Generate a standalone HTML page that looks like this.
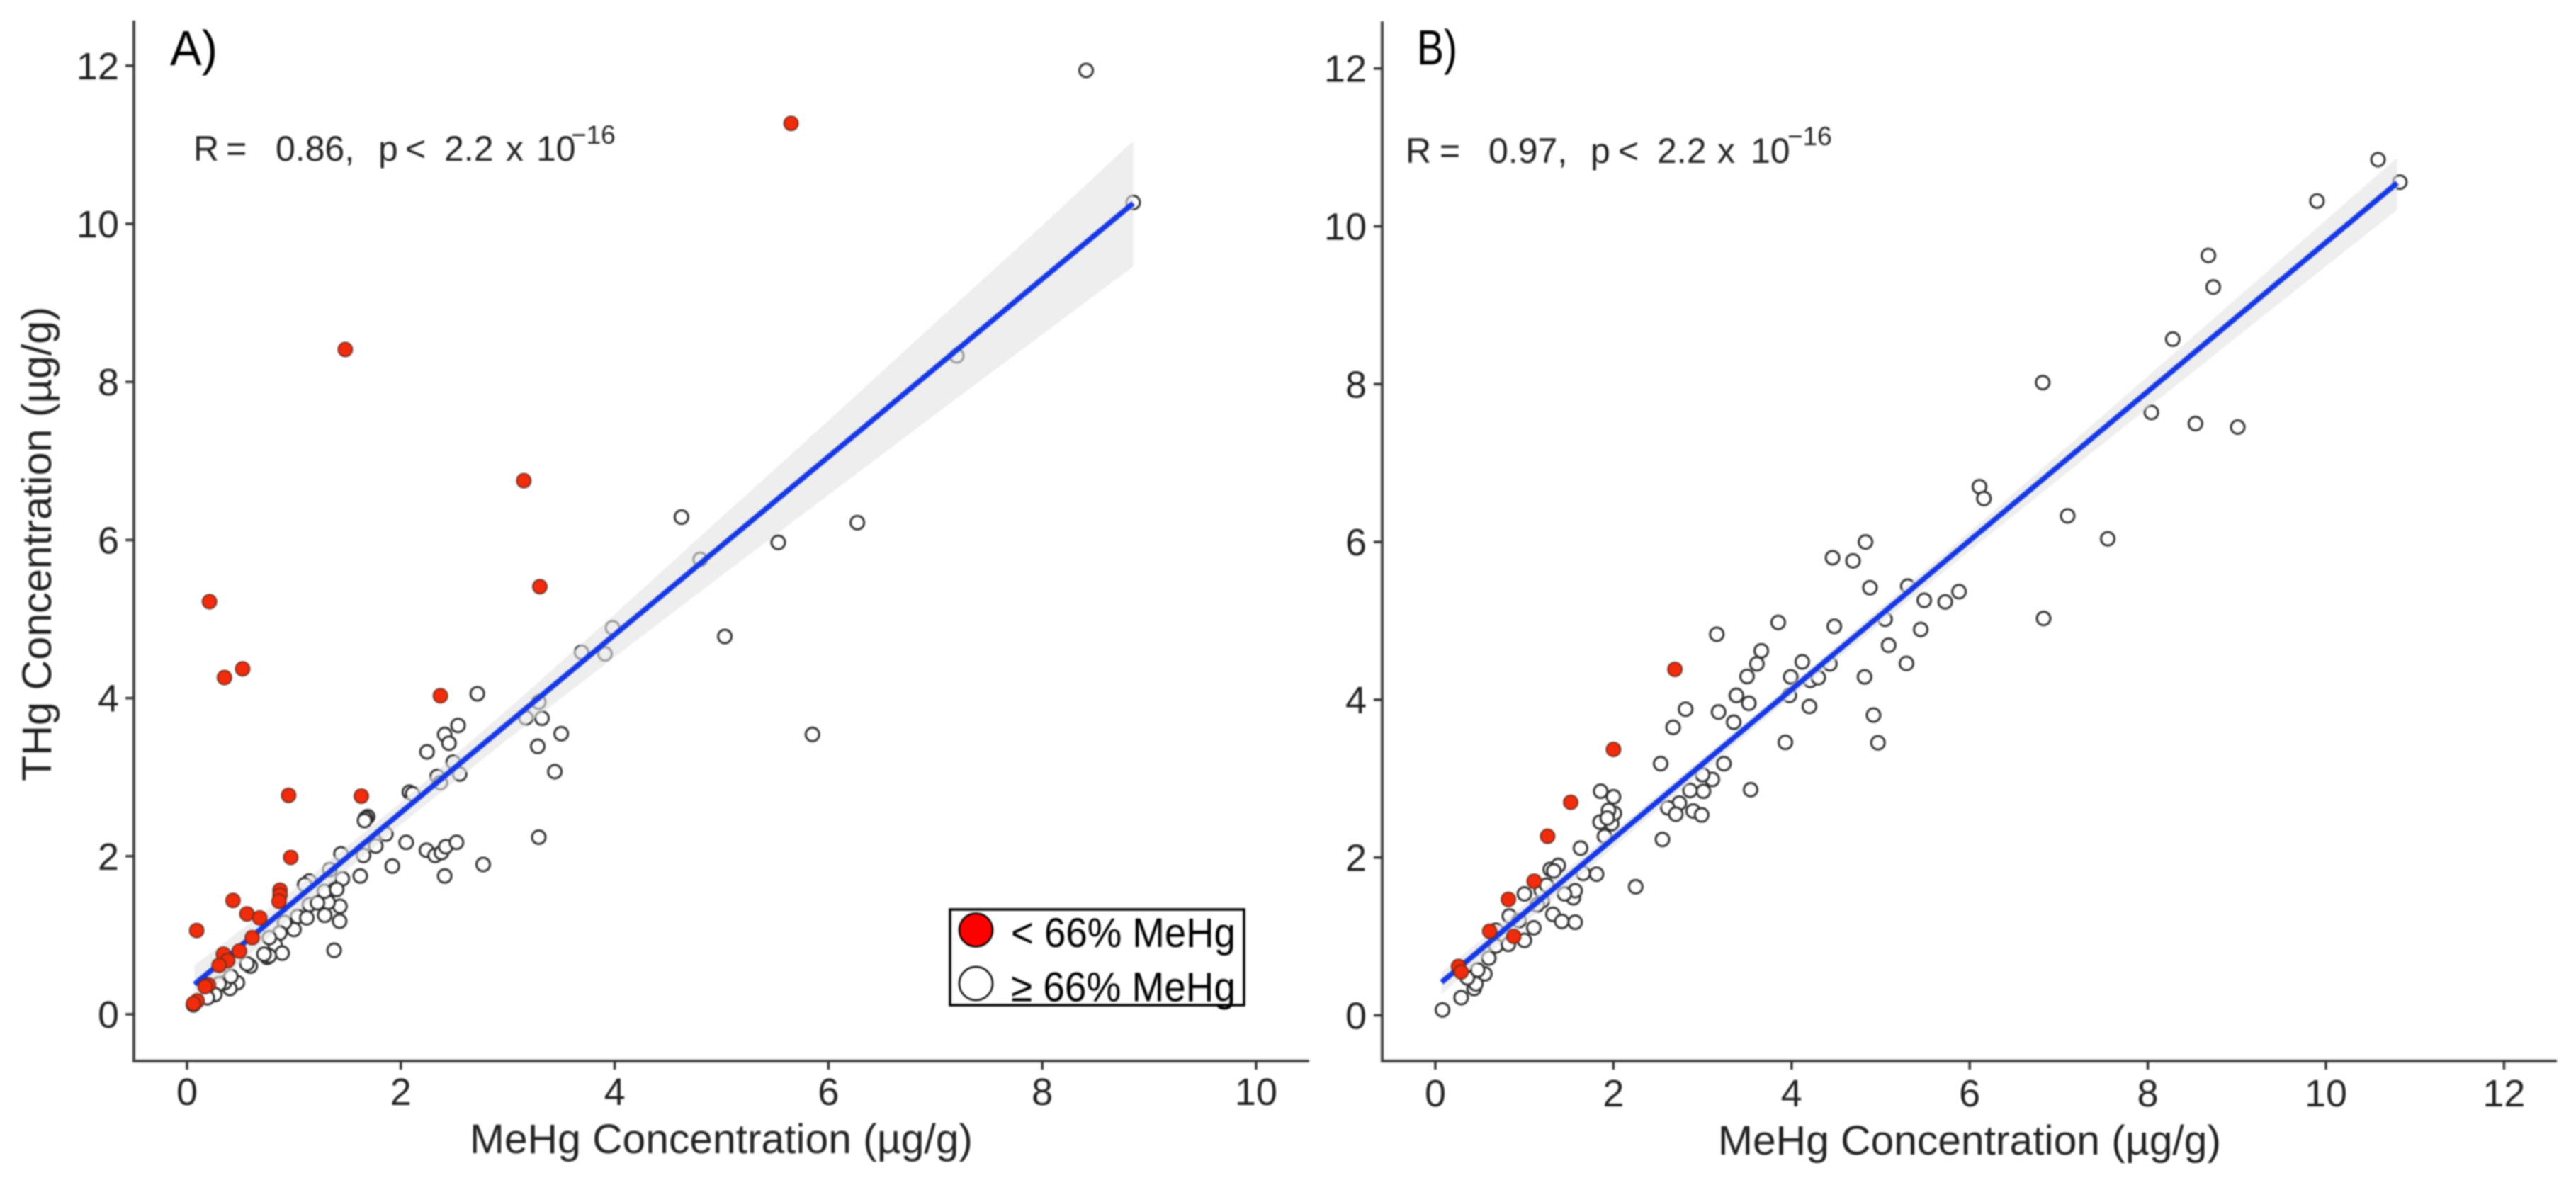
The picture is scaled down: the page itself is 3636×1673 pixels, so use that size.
<!DOCTYPE html>
<html lang="en">
<head>
<meta charset="utf-8">
<title>THg vs MeHg concentration scatter plots</title>
<style>
html,body{margin:0;padding:0;background:#fff;width:3636px;height:1673px;overflow:hidden}
svg{display:block;filter:blur(1px)}
text{font-family:"Liberation Sans",Arial,sans-serif;fill:#222222}
</style>
</head>
<body>
<svg id="figure" xmlns="http://www.w3.org/2000/svg" width="3636" height="1673" viewBox="0 0 3636 1673">
  <rect x="0" y="0" width="3636" height="1673" fill="#ffffff"/>
  <g id="panel-a"></g>
  <g id="panel-b"></g>

  <text x="240" y="92" font-size="70" textLength="67" lengthAdjust="spacingAndGlyphs" style="fill:#000">A)</text>
  <text x="2000" y="91" font-size="70" textLength="57" lengthAdjust="spacingAndGlyphs" style="fill:#000">B)</text>

  <text y="227" font-size="50"><tspan x="273">R</tspan><tspan x="319">=</tspan><tspan x="389">0.86,</tspan><tspan x="534">p</tspan><tspan x="572">&lt;</tspan><tspan x="627">2.2</tspan><tspan x="714">x</tspan><tspan x="757">10</tspan><tspan x="806" y="203" font-size="37">−16</tspan></text>
  <text y="230" font-size="50"><tspan x="1984">R</tspan><tspan x="2032">=</tspan><tspan x="2101">0.97,</tspan><tspan x="2245">p</tspan><tspan x="2284">&lt;</tspan><tspan x="2339">2.2</tspan><tspan x="2424">x</tspan><tspan x="2471">10</tspan><tspan x="2523" y="205" font-size="37">−16</tspan></text>

  <text transform="translate(72 1103) rotate(-90)" x="0" y="0" font-size="58" textLength="670" lengthAdjust="spacingAndGlyphs">THg Concentration (µg/g)</text>
  <text x="663" y="1628" font-size="58" textLength="710" lengthAdjust="spacingAndGlyphs">MeHg Concentration (µg/g)</text>
  <text x="2425" y="1630" font-size="58" textLength="710" lengthAdjust="spacingAndGlyphs">MeHg Concentration (µg/g)</text>

  <g>
    <rect x="1341" y="1284" width="415" height="135" fill="#fff" stroke="#000" stroke-width="3.5"/>
    <circle cx="1377.5" cy="1313" r="23.5" fill="#ff0000" stroke="#000" stroke-width="2.5"/>
    <text x="1427" y="1337" font-size="58" textLength="317" lengthAdjust="spacingAndGlyphs" style="fill:#000">&lt; 66% MeHg</text>
    <circle cx="1377.5" cy="1388.5" r="23.5" fill="#ffffff" stroke="#000" stroke-width="2.5"/>
    <text x="1427" y="1413.5" font-size="58" textLength="317" lengthAdjust="spacingAndGlyphs" style="fill:#000">≥ 66% MeHg</text>
  </g>
</svg>
<script>
// ---------- Panel A data (µg/g) ----------
const panelAXTicks = [0, 2, 4, 6, 8, 10];
const panelAYTicks = [0, 2, 4, 6, 8, 10, 12];
const panelARedMeHg = [5.65, 1.48, 3.15, 0.21, 0.35, 0.52, 3.30, 2.37, 0.95, 1.63, 0.97, 0.43, 0.87, 0.87, 0.86, 0.56, 0.68, 0.09, 0.61, 0.49, 0.34, 0.38, 0.30, 0.20, 0.17, 0.095, 0.06];
const panelARedTHg = [11.27, 8.41, 6.75, 5.22, 4.26, 4.37, 5.41, 4.03, 2.77, 2.76, 1.985, 1.44, 1.57, 1.51, 1.43, 1.27, 1.22, 1.06, 0.97, 0.80, 0.76, 0.68, 0.62, 0.37, 0.35, 0.17, 0.135];
const panelAOpenMeHg = [8.41, 8.85, 7.20, 4.625, 4.80, 5.53, 6.27, 5.03, 5.85, 3.98, 3.91, 3.69, 3.29, 3.17, 3.32, 3.50, 3.28, 3.44, 3.29, 2.715, 2.535, 2.41, 2.45, 2.245, 2.49, 2.55, 2.34, 2.37, 2.08, 2.11, 1.69, 1.67, 1.66, 1.86, 1.765, 1.65, 1.44, 2.05, 2.24, 2.32, 2.38, 2.42, 2.52, 2.41, 1.92, 2.77, 1.62, 1.453, 1.38, 1.43, 1.32, 1.288, 1.427, 1.376, 1.144, 1.10, 1.144, 1.034, 1.12, 1.00, 0.912, 0.868, 0.824, 0.89, 0.757, 0.75, 0.77, 0.72, 0.769, 0.592, 0.56, 0.47, 0.40, 0.35, 0.41, 0.30, 0.26, 0.19, 0.06, 1.335, 1.285, 1.40, 1.22];
const panelAOpenTHg = [11.94, 10.27, 8.33, 6.29, 5.755, 5.97, 6.22, 4.78, 3.54, 4.89, 4.56, 4.58, 3.95, 3.75, 3.745, 3.55, 3.39, 3.07, 2.24, 4.055, 3.655, 3.54, 3.43, 3.32, 3.19, 3.04, 3.01, 2.93, 2.81, 2.79, 2.50, 2.48, 2.45, 2.28, 2.13, 2.01, 2.03, 2.175, 2.075, 2.01, 2.045, 2.12, 2.175, 1.75, 1.875, 1.895, 1.75, 1.715, 1.58, 1.366, 1.417, 1.253, 1.178, 0.81, 1.686, 1.64, 1.387, 1.238, 1.22, 1.073, 1.163, 1.029, 0.879, 0.774, 0.73, 0.72, 0.74, 0.76, 0.969, 0.61, 0.64, 0.40, 0.326, 0.40, 0.48, 0.386, 0.25, 0.21, 0.12, 1.83, 1.556, 1.58, 1.41];
const panelAFitMeHg = [0.07, 8.85];
const panelAFitTHg = [0.38, 10.26];
const panelABandMeHg = [0.07, 1, 2, 3, 4, 5, 6, 7, 8, 8.85];
const panelABandUpper = [0.62, 1.58, 2.68, 3.86, 5.06, 6.29, 7.51, 8.75, 9.98, 11.05];
const panelABandLower = [0.12, 1.26, 2.40, 3.48, 4.52, 5.55, 6.57, 7.59, 8.60, 9.46];

// ---------- Panel B data (µg/g) ----------
const panelBXTicks = [0, 2, 4, 6, 8, 10, 12];
const panelBYTicks = [0, 2, 4, 6, 8, 10, 12];
const panelBRedMeHg = [2.69, 2.00, 1.52, 1.26, 1.11, 0.82, 0.61, 0.88, 0.26, 0.29];
const panelBRedTHg = [4.385, 3.37, 2.70, 2.27, 1.70, 1.47, 1.066, 1.00, 0.62, 0.55];
const panelBOpenMeHg = [10.585, 10.83, 9.90, 8.68, 8.735, 8.28, 6.82, 8.04, 8.535, 9.01, 6.11, 6.16, 7.10, 7.55, 5.305, 5.49, 5.725, 5.88, 6.83, 5.45, 5.09, 5.05, 5.29, 4.83, 4.46, 4.69, 4.88, 4.92, 4.97, 0.08, 0.29, 0.435, 0.455, 0.36, 0.556, 0.475, 0.60, 0.68, 0.68, 0.82, 1.00, 1.105, 0.83, 1.00, 0.94, 1.32, 1.42, 1.57, 1.55, 1.57, 1.45, 1.20, 1.145, 1.19, 1.25, 1.29, 1.38, 1.33, 1.66, 1.81, 1.63, 2.25, 2.55, 1.90, 1.85, 1.98, 2.01, 1.945, 2.00, 1.856, 1.93, 2.53, 2.67, 2.81, 3.16, 3.85, 4.48, 3.66, 3.61, 3.50, 3.38, 3.52, 3.18, 3.35, 3.24, 3.11, 3.00, 3.01, 2.86, 2.74, 2.61, 2.70, 2.895, 2.99, 3.54, 3.93, 4.20, 3.99, 3.975, 4.12, 4.21, 4.30, 4.43, 4.82];
const panelBOpenTHg = [10.845, 10.56, 10.32, 9.63, 9.23, 8.57, 8.02, 7.64, 7.50, 7.455, 6.70, 6.55, 6.33, 6.04, 5.44, 5.26, 5.24, 5.37, 5.03, 4.89, 4.69, 5.02, 4.46, 6.00, 5.80, 5.76, 5.42, 3.805, 3.455, 0.07, 0.225, 0.34, 0.40, 0.475, 0.525, 0.575, 0.726, 0.88, 1.08, 0.90, 0.95, 1.11, 1.26, 1.54, 1.20, 1.28, 1.19, 1.18, 1.49, 1.58, 1.54, 1.45, 1.40, 1.58, 1.65, 1.85, 1.90, 1.83, 1.80, 1.79, 2.12, 1.63, 2.23, 2.27, 2.45, 2.43, 2.56, 2.60, 2.77, 2.84, 2.50, 3.19, 3.65, 3.88, 4.83, 4.98, 4.93, 4.62, 4.455, 4.295, 4.055, 3.955, 3.845, 3.715, 3.19, 2.99, 3.05, 2.84, 2.85, 2.69, 2.63, 2.55, 2.59, 2.54, 2.86, 3.46, 3.915, 4.29, 4.055, 4.48, 4.245, 4.28, 4.455, 4.29];
const panelBFitMeHg = [0.07, 10.8];
const panelBFitTHg = [0.42, 10.55];
const panelBBandMeHg = [0.07, 2, 4, 6, 8, 10.8];
const panelBBandUpper = [0.55, 2.33, 4.20, 6.13, 8.10, 10.87];
const panelBBandLower = [0.27, 2.13, 4.04, 5.89, 7.70, 10.21];

const SVG_NS = 'http://www.w3.org/2000/svg';

function make(tag, parent, props) {
  const el = document.createElementNS(SVG_NS, tag);
  for (const k in props) {
    el.setAttribute(k, props[k]);
  }
  parent.appendChild(el);
  return el;
}

function drawPanel(cfg) {
  const root = document.getElementById(cfg.id);
  const x = cfg.xScale;
  const y = cfg.yScale;
  const frame = cfg.frame;

  // hollow points (under band and fit line)
  const openGroup = make('g', root, {});
  
  
  cfg.openMeHg.forEach(function (v, i) {
    const el = make('circle', openGroup, {cx: x(v), cy: y(cfg.openTHg[i]), r: 9.5, fill: '#ffffff', stroke: '#2e2e2e', 'stroke-width': 3});
    
    
  });

  // confidence band
  let d = '';
  cfg.bandMeHg.forEach(function (v, i) {
    d += (i ? 'L' : 'M') + x(v) + ' ' + y(cfg.bandUpper[i]);
  });
  for (let i = cfg.bandMeHg.length - 1; i >= 0; i--) {
    d += 'L' + x(cfg.bandMeHg[i]) + ' ' + y(cfg.bandLower[i]);
  }
  const band = make('path', root, {d: d + 'Z', fill: '#e2e2e2', 'fill-opacity': 0.6});
  
  

  // fit line
  const fit = make('line', root, {x1: x(cfg.fitMeHg[0]), y1: y(cfg.fitTHg[0]), x2: x(cfg.fitMeHg[1]), y2: y(cfg.fitTHg[1]), stroke: '#1638e4', 'stroke-width': 7.5});
  
  

  // red points
  const redGroup = make('g', root, {});
  
  
  cfg.redMeHg.forEach(function (v, i) {
    const el = make('circle', redGroup, {cx: x(v), cy: y(cfg.redTHg[i]), r: 10, fill: '#f02c0c', stroke: '#6b2a1c', 'stroke-width': 1.8});
    
    
  });

  // axis lines
  const yAxis = make('line', root, {x1: frame.left, y1: frame.top, x2: frame.left, y2: frame.bottom + 2, stroke: '#444444', 'stroke-width': 4});
  
  
  const xAxis = make('line', root, {x1: frame.left - 2, y1: frame.bottom, x2: frame.right, y2: frame.bottom, stroke: '#444444', 'stroke-width': 4});
  
  

  // x ticks + labels
  cfg.xTicks.forEach(function (v) {
    const tick = make('line', root, {x1: x(v), y1: frame.bottom, x2: x(v), y2: frame.bottom + 12, stroke: '#333333', 'stroke-width': 3.5});
    
    
    const label = make('text', root, {x: x(v), y: frame.xLabelBaseline, 'font-size': 54, 'text-anchor': 'middle'});
    
    
    label.textContent = String(v);
  });

  // y ticks + labels
  cfg.yTicks.forEach(function (v) {
    const tick = make('line', root, {x1: frame.left - 12, y1: y(v), x2: frame.left, y2: y(v), stroke: '#333333', 'stroke-width': 3.5});
    
    
    const label = make('text', root, {x: frame.yLabelRight, y: y(v) + 19, 'font-size': 54, 'text-anchor': 'end'});
    
    
    label.textContent = String(v);
  });
}

drawPanel({
  id: 'panel-a',
  xScale: function (v) { return 264 + 150.9 * v; },
  yScale: function (v) { return 1432 - 111.6 * v; },
  frame: {left: 189, right: 1848, top: 29, bottom: 1498, xLabelBaseline: 1560, yLabelRight: 168},
  xTicks: panelAXTicks, yTicks: panelAYTicks,
  redMeHg: panelARedMeHg, redTHg: panelARedTHg,
  openMeHg: panelAOpenMeHg, openTHg: panelAOpenTHg,
  fitMeHg: panelAFitMeHg, fitTHg: panelAFitTHg,
  bandMeHg: panelABandMeHg, bandUpper: panelABandUpper, bandLower: panelABandLower
});

drawPanel({
  id: 'panel-b',
  xScale: function (v) { return 2026 + 125.7 * v; },
  yScale: function (v) { return 1433.5 - 111.4 * v; },
  frame: {left: 1951, right: 3609, top: 30, bottom: 1498, xLabelBaseline: 1562, yLabelRight: 1929},
  xTicks: panelBXTicks, yTicks: panelBYTicks,
  redMeHg: panelBRedMeHg, redTHg: panelBRedTHg,
  openMeHg: panelBOpenMeHg, openTHg: panelBOpenTHg,
  fitMeHg: panelBFitMeHg, fitTHg: panelBFitTHg,
  bandMeHg: panelBBandMeHg, bandUpper: panelBBandUpper, bandLower: panelBBandLower
});
</script>
</body>
</html>
